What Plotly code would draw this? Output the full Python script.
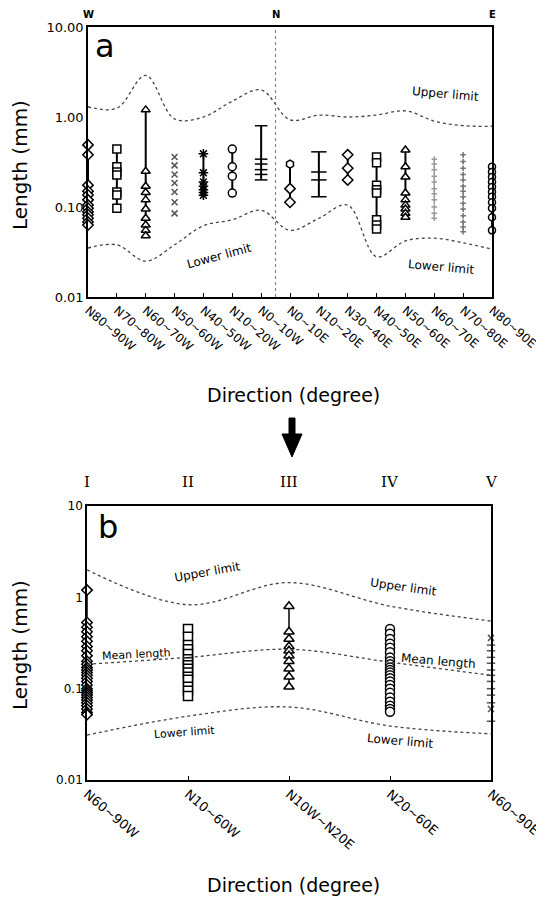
import plotly.graph_objects as go

# page offset of the plot inside the browser body (default 8px body margin)
OFF = 8
W, H = 544 - OFF, 900 - OFF

# ---------------- Panel a data ----------------
cats_a = ["N80~90W", "N70~80W", "N60~70W", "N50~60W", "N40~50W", "N10~20W", "N0~10W",
          "N0~10E", "N10~20E", "N30~40E", "N40~50E", "N50~60E", "N60~70E", "N70~80E", "N80~90E"]
upper_a = [1.3, 1.25, 2.9, 0.95, 1.0, 1.5, 2.0, 0.93, 1.05, 1.0, 1.05, 1.17, 0.9, 0.8, 0.79]
lower_a = [0.035, 0.038, 0.025, 0.038, 0.062, 0.072, 0.092, 0.055, 0.075, 0.105, 0.028, 0.042, 0.045, 0.04, 0.034]

n80_90w = [0.49, 0.38, 0.175, 0.15, 0.136, 0.12, 0.105, 0.097, 0.088, 0.082, 0.075, 0.068, 0.063]
n70_80w = [0.44, 0.28, 0.245, 0.227, 0.147, 0.136, 0.097]
n60_70w = [1.2, 0.25, 0.17, 0.145, 0.12, 0.095, 0.075, 0.063, 0.055, 0.048]
n50_60w = [0.36, 0.29, 0.23, 0.185, 0.147, 0.113, 0.085]
n40_50w = [0.39, 0.24, 0.19, 0.17, 0.155, 0.145, 0.135]
n10_20w = [0.44, 0.28, 0.22, 0.143]
n0_10w = [0.8, 0.34, 0.30, 0.26, 0.23, 0.2]
n0_10e = [0.30, 0.16, 0.113]
n10_20e = [0.41, 0.245, 0.2, 0.13]
n30_40e = [0.38, 0.27, 0.2]
n40_50e = [0.36, 0.31, 0.175, 0.155, 0.143, 0.072, 0.063, 0.057]
n50_60e = [0.43, 0.28, 0.215, 0.143, 0.12, 0.105, 0.095, 0.085, 0.077]
n60_70e = [0.34, 0.3, 0.26, 0.22, 0.19, 0.16, 0.14, 0.12, 0.1, 0.085, 0.075]
n70_80e = [0.38, 0.32, 0.27, 0.23, 0.2, 0.17, 0.15, 0.13, 0.11, 0.095, 0.08, 0.068, 0.06, 0.053]
n80_90e = [0.28, 0.245, 0.215, 0.19, 0.167, 0.147, 0.13, 0.113, 0.097, 0.077, 0.055]

# ---------------- Panel b data ----------------
cats_b = ["N60~90W", "N10~60W", "N10W~N20E", "N20~60E", "N60~90E"]
groups_b = ["I", "II", "III", "IV", "V"]
upper_b = [2.0, 0.83, 1.45, 0.8, 0.55]
mean_b = [0.185, 0.22, 0.27, 0.195, 0.14]
lower_b = [0.031, 0.05, 0.063, 0.039, 0.032]

grp_i = [1.2, 0.53, 0.47, 0.42, 0.37, 0.33, 0.29, 0.26, 0.23, 0.2, 0.185, 0.17, 0.16, 0.15, 0.14,
         0.13, 0.12, 0.11, 0.1, 0.095, 0.09, 0.085, 0.08, 0.075, 0.07, 0.065, 0.06, 0.055, 0.052]
grp_ii = [0.45, 0.37, 0.3, 0.27, 0.24, 0.21, 0.195, 0.18, 0.165, 0.15, 0.135, 0.125, 0.105, 0.095, 0.083]
grp_iii = [0.8, 0.42, 0.35, 0.29, 0.26, 0.23, 0.2, 0.165, 0.135, 0.105]
grp_iv = [0.45, 0.4, 0.35, 0.31, 0.28, 0.25, 0.22, 0.2, 0.185, 0.17, 0.16, 0.15, 0.14, 0.13,
          0.12, 0.11, 0.1, 0.09, 0.08, 0.072, 0.065, 0.06, 0.056]
grp_v = [0.36, 0.3, 0.26, 0.22, 0.19, 0.16, 0.14, 0.12, 0.1, 0.085, 0.07, 0.06, 0.044]

# ---------------- helpers (page pixel -> paper fraction) ----------------
def px(x):
    return (x - OFF) / W

def py(y):
    return 1 - (y - OFF) / H

FONT = "DejaVu Sans"
fig = go.Figure()

a_groups = [n80_90w, n70_80w, n60_70w, n50_60w, n40_50w, n10_20w, n0_10w, n0_10e,
            n10_20e, n30_40e, n40_50e, n50_60e, n60_70e, n70_80e, n80_90e]
a_style = [
    dict(symbol="diamond", size=8, line="solid", color="black"),
    dict(symbol="square", size=8, line="solid", color="black"),
    dict(symbol="triangle-up", size=8, line="solid", color="black"),
    dict(symbol="x-thin-open", size=6, line=None, color="#555"),
    dict(symbol="asterisk-open", size=8, line="solid", color="black"),
    dict(symbol="circle", size=8, line="solid", color="black"),
    dict(symbol="line-ew-open", size=9, line="solid", color="black"),
    dict(symbol="diamond", size=8, line="solid", color="black"),
    dict(symbol="line-ew-open", size=11, line="solid", color="black"),
    dict(symbol="diamond", size=8, line="solid", color="black"),
    dict(symbol="square", size=8, line="solid", color="black"),
    dict(symbol="triangle-up", size=8, line="solid", color="black"),
    dict(symbol="cross-thin-open", size=4, line="dot", color="#999"),
    dict(symbol="cross-thin-open", size=4, line="dot", color="#777"),
    dict(symbol="circle", size=7, line="solid", color="black"),
]

for cat, vals, st in zip(cats_a, a_groups, a_style):
    symbols = [st["symbol"]] * len(vals)
    if cat == "N0~10E":
        symbols[0] = "hexagon"
    mode = "markers" if st["line"] is None else "lines+markers"
    fig.add_trace(go.Scatter(
        x=[cat] * len(vals), y=vals, mode=mode, xaxis="x", yaxis="y",
        line=dict(color=st["color"], width=2 if st["line"] == "solid" else 1.2,
                  dash=st["line"] or "solid"),
        marker=dict(symbol=symbols, size=st["size"],
                    color="white" if "open" not in st["symbol"] else st["color"],
                    line=dict(color=st["color"], width=1.5)),
        showlegend=False, cliponaxis=False))

for vals in (upper_a, lower_a):
    fig.add_trace(go.Scatter(x=cats_a, y=vals, mode="lines", xaxis="x", yaxis="y",
                             line=dict(color="#444", width=1.3, dash="dot", shape="spline", smoothing=1.0),
                             showlegend=False))

b_groups = [grp_i, grp_ii, grp_iii, grp_iv, grp_v]
b_style = [
    dict(symbol="diamond", size=8, line="solid", color="black"),
    dict(symbol="square", size=9, line=None, color="black"),
    dict(symbol="triangle-up", size=9, line="solid", color="black"),
    dict(symbol="circle", size=9, line=None, color="black"),
    dict(symbol="line-ew-open", size=6, line=None, color="#555"),
]
for cat, vals, st in zip(cats_b, b_groups, b_style):
    symbols = [st["symbol"]] * len(vals)
    if cat == "N60~90E":
        symbols[0] = "x-thin-open"
        symbols[-2] = "x-thin-open"
    mode = "markers" if st["line"] is None else "lines+markers"
    fig.add_trace(go.Scatter(
        x=[cat] * len(vals), y=vals, mode=mode, xaxis="x2", yaxis="y2",
        line=dict(color=st["color"], width=1.5),
        marker=dict(symbol=symbols, size=st["size"],
                    color="white" if "open" not in st["symbol"] else st["color"],
                    line=dict(color=st["color"], width=1.5)),
        showlegend=False, cliponaxis=False))

for vals in (upper_b, mean_b, lower_b):
    fig.add_trace(go.Scatter(x=cats_b, y=vals, mode="lines", xaxis="x2", yaxis="y2",
                             line=dict(color="#444", width=1.3, dash="dot", shape="spline", smoothing=1.0),
                             showlegend=False))

axis_common = dict(showline=True, linecolor="black", linewidth=1.6, mirror=True,
                   showgrid=False, zeroline=False, automargin=False)

fig.update_layout(
    template="none",
    width=W, height=H, margin=dict(l=0, r=0, t=0, b=0, autoexpand=False),
    paper_bgcolor="white", plot_bgcolor="white",
    font=dict(family=FONT, color="black"),
    xaxis=dict(axis_common, domain=[px(88), px(492)], anchor="y", type="category",
               categoryorder="array", categoryarray=cats_a, range=[0, 14],
               tickangle=40, ticks="inside", ticklen=4, tickcolor="black",
               tickfont=dict(size=12, family=FONT)),
    yaxis=dict(axis_common, domain=[py(297), py(27)], anchor="x", type="log", range=[-2, 1],
               tickvals=[0.01, 0.1, 1, 10], ticktext=["0.01", "0.10", "1.00", "10.00"],
               ticks="", tickfont=dict(size=13, family=FONT)),
    xaxis2=dict(axis_common, domain=[px(87), px(491)], anchor="y2", type="category",
                categoryorder="array", categoryarray=cats_b, range=[0, 4],
                tickangle=40, ticks="inside", ticklen=4, tickcolor="black",
                tickfont=dict(size=13, family=FONT)),
    yaxis2=dict(axis_common, domain=[py(780), py(506)], anchor="x2", type="log", range=[-2, 1],
                tickvals=[0.01, 0.1, 1, 10], ticktext=["0.01", "0.1", "1", "10"],
                ticks="", tickfont=dict(size=12, family=FONT)),
)

# N divider line
fig.add_shape(type="line", xref="x", yref="y domain", x0=6.5, x1=6.5, y0=0, y1=1,
              line=dict(color="#777", width=1, dash="dot"))

# direction letters on top of panel a
for xv, t in [(0, "W"), (6.5, "N"), (14, "E")]:
    fig.add_annotation(x=xv, y=py(14), xref="x", yref="paper", yanchor="middle",
                       text="<b>%s</b>" % t, showarrow=False, font=dict(size=10, family=FONT))

# roman numerals on top of panel b
for i, g in enumerate(groups_b):
    fig.add_annotation(x=i, y=py(482), xref="x2", yref="paper", yanchor="middle", text=g,
                       showarrow=False, font=dict(size=15, family="DejaVu Serif"))

def label(x, y, text, size=12, angle=0, family=FONT):
    fig.add_annotation(x=px(x), y=py(y), xref="paper", yref="paper", xanchor="center",
                       yanchor="middle", text=text, showarrow=False, textangle=angle,
                       font=dict(size=size, family=family))

label(105, 46, "a", size=32)
label(108, 527, "b", size=32)
label(20, 165, "Length (mm)", size=20, angle=-90)
label(20, 645, "Length (mm)", size=20, angle=-90)
label(293, 395, "Direction (degree)", size=19)
label(293, 885, "Direction (degree)", size=19)

label(445, 94, "Upper limit", size=12, angle=5)
label(219, 256, "Lower limit", size=12, angle=-15)
label(441, 267, "Lower limit", size=12, angle=5)

label(207, 572, "Upper limit", size=12, angle=-10)
label(403, 587, "Upper limit", size=12, angle=8)
label(136, 654, "Mean length", size=11, angle=-3)
label(438, 661, "Mean length", size=12, angle=5)
label(184, 732, "Lower limit", size=11, angle=-4)
label(400, 741, "Lower limit", size=12, angle=5)

# arrow between panels
path = "M {a},{b} L {c},{b} L {c},{d} L {e},{d} L {f},{g} L {h},{d} L {i},{d} Z".format(
    a=px(289), b=py(418), c=px(295), d=py(434), e=px(302), f=px(292), g=py(457), h=px(282), i=px(289))
fig.add_shape(type="path", xref="paper", yref="paper", path=path,
              fillcolor="black", line=dict(color="black", width=1))

fig.write_html("out.html")
